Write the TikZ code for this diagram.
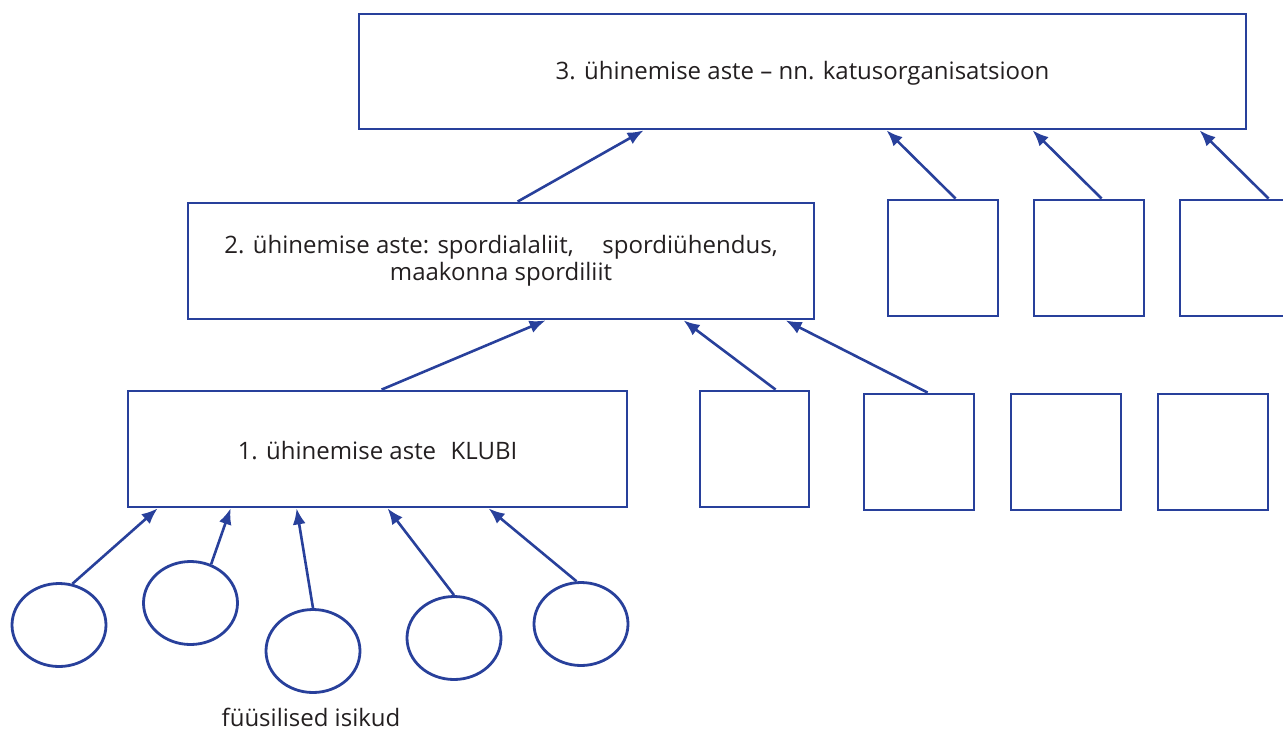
\documentclass[tikz,border=0pt]{standalone}
\usepackage{fontspec}
\setmainfont{Open Sans}
\usetikzlibrary{shapes.geometric,arrows.meta}
\definecolor{lineblue}{RGB}{40,64,155}
\definecolor{txt}{RGB}{35,31,32}
\tikzset{
  box/.style={draw=lineblue, line width=2.8pt, rectangle, inner sep=0pt, text=txt, font=\fontsize{24}{27}\selectfont, align=center},
  circ/.style={draw=lineblue, line width=2.8pt, ellipse, inner sep=0pt, minimum width=94pt, minimum height=83pt},
  conn/.style={draw=lineblue, line width=2.6pt, -{Latex[length=16pt,width=13pt]}},
  lbl/.style={text=txt, inner sep=0pt, font=\fontsize{24}{27}\selectfont}
}
\begin{document}
\begin{tikzpicture}[x=1pt,y=-1pt]
\useasboundingbox (0,0) rectangle (1283,731);
\node[box, minimum width=887pt, minimum height=115pt] (top) at (802.5,71.5) {};
\node[box, minimum width=626pt, minimum height=116pt] (b2) at (501,261) {2. ühinemise aste: spordialaliit,\hspace{1.2em}spordiühendus,\\maakonna spordiliit};
\node[box, minimum width=499pt, minimum height=116pt] (b1) at (377.5,449) {};
\node[lbl] (t3) at ([yshift=-2pt]top.center) {3. ühinemise aste – nn. katusorganisatsioon};
\node[lbl] (t1) at ([yshift=-2pt]b1.center) {1. ühinemise aste\hspace{0.6em}KLUBI};
\node[box, minimum width=109pt, minimum height=116pt] (r1a) at (754.5,449) {};
\node[box, minimum width=110pt, minimum height=116pt] (r1b) at (919,452) {};
\node[box, minimum width=110pt, minimum height=116pt] (r1c) at (1066,452) {};
\node[box, minimum width=110pt, minimum height=116pt] (r1d) at (1213,452) {};
\node[box, minimum width=110pt, minimum height=116pt] (r2a) at (943,258) {};
\node[box, minimum width=110pt, minimum height=116pt] (r2b) at (1089,258) {};
\node[box, minimum width=110pt, minimum height=116pt] (r2c) at (1235,258) {};
\node[circ] (c1) at (59,625) {};
\node[circ] (c2) at (190.5,603) {};
\node[circ] (c3) at (313,651) {};
\node[circ] (c4) at (454,638) {};
\node[circ] (c5) at (581,624) {};
\node[lbl] (fi) at (311,717) {füüsilised isikud};
% connectors
\draw[conn] ([xshift=331pt]b2.north west) -- ([xshift=286pt]top.south west);
\draw[conn] ([xshift=69pt]r2a.north west) -- ([xshift=529pt]top.south west);
\draw[conn] ([xshift=69pt]r2b.north west) -- ([xshift=675pt]top.south west);
\draw[conn] ([xshift=90pt]r2c.north west) -- ([xshift=842pt]top.south west);
\draw[conn] ([xshift=255pt]b1.north west) -- ([xshift=359pt]b2.south west);
\draw[conn] ([xshift=77pt]r1a.north west) -- ([xshift=497pt]b2.south west);
\draw[conn] ([xshift=65pt]r1b.north west) -- ([xshift=599pt]b2.south west);
\draw[conn] (c1.72) -- ([xshift=31pt]b1.south west);
\draw[conn] (c2.62) -- ([xshift=104pt]b1.south west);
\draw[conn] (c3.north) -- ([xshift=170pt]b1.south west);
\draw[conn] (c4.north) -- ([xshift=261pt]b1.south west);
\draw[conn] (c5.96) -- ([xshift=362pt]b1.south west);
\end{tikzpicture}
\end{document}
